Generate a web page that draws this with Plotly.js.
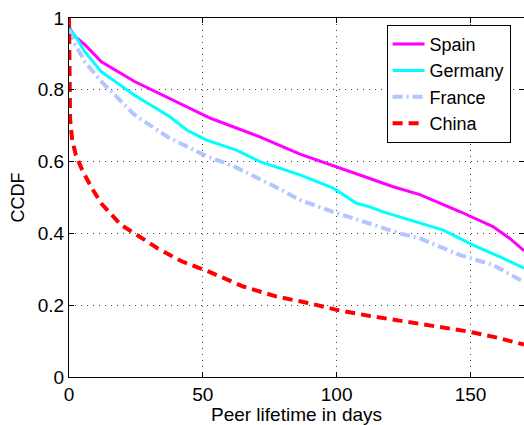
<!DOCTYPE html>
<html>
<head>
<meta charset="utf-8">
<script src="https://cdn.plot.ly/plotly-3.0.1.min.js"></script>
<style>html,body{margin:0;padding:0;background:#fff;}#chart{width:524px;height:425px;}</style>
</head>
<body>
<div id="chart"></div>
<script>
const seriesNames = ["Spain", "Germany", "France", "China"];

const spainDays = [0, 2, 6, 12.1, 24.5, 37, 52.7, 55.6, 71.3, 86.3, 101.2, 108.7, 112.4, 121.1, 131.1, 146, 158.4, 164.7, 170];
const spainCcdf = [0.975, 0.95, 0.925, 0.878, 0.823, 0.778, 0.721, 0.713, 0.669, 0.621, 0.581, 0.563, 0.553, 0.530, 0.508, 0.461, 0.419, 0.386, 0.352];

const germanyDays = [0, 2.1, 5.9, 12.1, 24.5, 37.7, 44, 51.4, 62.6, 71.3, 86.3, 98.7, 107.4, 112.4, 117.4, 131.1, 139.8, 152.2, 160.9, 170];
const germanyCcdf = [0.97, 0.953, 0.906, 0.850, 0.785, 0.725, 0.688, 0.660, 0.632, 0.600, 0.563, 0.526, 0.484, 0.474, 0.460, 0.428, 0.409, 0.363, 0.335, 0.303];

const franceDays = [0, 2.1, 5.9, 12.1, 24.5, 37, 51.4, 61.3, 77.6, 86.3, 98.7, 111.2, 123.6, 131.1, 146, 158.4, 170];
const franceCcdf = [0.965, 0.929, 0.878, 0.823, 0.730, 0.668, 0.615, 0.588, 0.528, 0.493, 0.460, 0.430, 0.400, 0.386, 0.340, 0.312, 0.265];

const chinaDays = [0, 0.1, 0.4, 1.2, 2.5, 4.9, 8.3, 12.1, 15.8, 19.5, 24.5, 33.2, 41.9, 52.7, 65.1, 77.6, 90, 100, 112.4, 124.8, 137.3, 149.7, 160.9, 168.4, 170];
const chinaCcdf = [1, 0.85, 0.72, 0.66, 0.62, 0.577, 0.529, 0.483, 0.451, 0.423, 0.400, 0.358, 0.323, 0.292, 0.252, 0.224, 0.205, 0.187, 0.170, 0.156, 0.142, 0.126, 0.108, 0.094, 0.090];

const xTicks = [0, 50, 100, 150];
const yTicks = [0, 0.2, 0.4, 0.6, 0.8, 1];
const yTickText = ["0", "0.2", "0.4", "0.6", "0.8", "1"];

const traces = [
  {x: spainDays, y: spainCcdf, name: seriesNames[0], mode: "lines", line: {color: "#ff00ff", width: 3}},
  {x: germanyDays, y: germanyCcdf, name: seriesNames[1], mode: "lines", line: {color: "#00ffff", width: 3}},
  {x: franceDays, y: franceCcdf, name: seriesNames[2], mode: "lines", line: {color: "#b3c6ff", width: 4, dash: "10px,4px,2px,4px"}},
  {x: chinaDays, y: chinaCcdf, name: seriesNames[3], mode: "lines", line: {color: "#ff0000", width: 4, dash: "10px,6px"}}
];

const font = {family: "Liberation Sans, Arial, sans-serif", color: "#000"};

const layout = {
  width: 524, height: 425,
  margin: {l: 69, r: 0, t: 18, b: 48, pad: 0},
  paper_bgcolor: "#fff", plot_bgcolor: "#fff",
  font: Object.assign({size: 18}, font),
  showlegend: true,
  legend: {
    x: 0.698, y: 0.981, xanchor: "left", yanchor: "top",
    bgcolor: "#fff", bordercolor: "#000", borderwidth: 1,
    font: Object.assign({size: 18}, font),
    itemwidth: 32, tracegroupgap: 0
  },
  xaxis: {
    range: [0, 170], tickvals: xTicks, ticks: "inside", ticklen: 5, tickcolor: "#000",
    showline: true, linecolor: "#000", linewidth: 1, mirror: "ticks",
    showgrid: true, gridcolor: "#444", gridwidth: 1, griddash: "1px,5px",
    zeroline: false, tickfont: Object.assign({size: 19}, font),
    title: {text: "Peer lifetime in days", font: Object.assign({size: 19}, font), standoff: 2}
  },
  yaxis: {
    range: [0, 1], tickvals: yTicks, ticktext: yTickText, ticks: "inside", ticklen: 5, tickcolor: "#000",
    showline: true, linecolor: "#000", linewidth: 1, mirror: "ticks",
    showgrid: true, gridcolor: "#444", gridwidth: 1, griddash: "1px,5px",
    zeroline: false, tickfont: Object.assign({size: 19}, font),
    title: {text: "CCDF", font: Object.assign({size: 18}, font), standoff: 8}
  }
};

Plotly.newPlot("chart", traces, layout, {displayModeBar: false, staticPlot: true});
</script>
</body>
</html>
